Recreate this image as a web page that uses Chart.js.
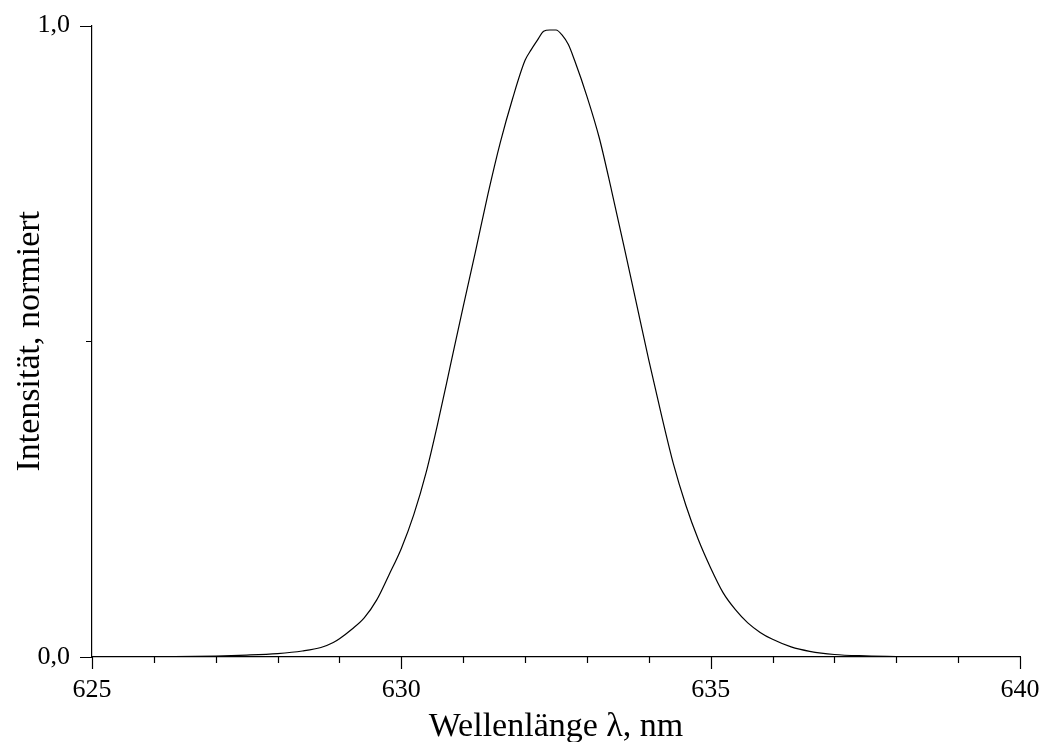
<!DOCTYPE html>
<html>
<head>
<meta charset="utf-8">
<script src="https://cdn.jsdelivr.net/npm/chart.js@4.4.0/dist/chart.umd.min.js"></script>
<style>
  body { margin: 0; background: #fff; }
  #wrap { width: 1047px; height: 742px; }
</style>
</head>
<body>
<div id="wrap"><canvas id="spectrum" width="1047" height="742"></canvas></div>
<script>
// Wellenlänge in nm
const wavelengths = [
  625.0, 626.0, 627.0, 627.5, 628.0, 628.4, 628.7, 628.9, 629.0, 629.2,
  629.4, 629.6, 629.8, 630.0, 630.2, 630.4, 630.6, 630.8, 631.0, 631.2,
  631.4, 631.6, 631.8, 632.0, 632.1, 632.2, 632.3, 632.4, 632.5, 632.6,
  632.7, 632.8, 633.0, 633.2, 633.4, 633.6, 633.8, 634.0, 634.2, 634.4,
  634.6, 634.8, 635.0, 635.2, 635.4, 635.6, 635.8, 636.0, 636.3, 636.6,
  637.0, 637.5, 638.0, 638.5, 639.1
];
// normierte Intensität
const intensities = [
  0.000, 0.0003, 0.0015, 0.003, 0.0055, 0.0095, 0.015, 0.023, 0.029, 0.044,
  0.062, 0.090, 0.130, 0.172, 0.225, 0.292, 0.375, 0.465, 0.555, 0.643,
  0.733, 0.815, 0.885, 0.945, 0.962, 0.977, 0.991, 0.993, 0.993, 0.985,
  0.970, 0.945, 0.888, 0.822, 0.738, 0.650, 0.560, 0.470, 0.385, 0.305,
  0.240, 0.186, 0.141, 0.102, 0.075, 0.054, 0.039, 0.028, 0.016, 0.009,
  0.004, 0.0018, 0.0007, 0.0002, 0.000
];
const xTicks = [625, 626, 627, 628, 629, 630, 631, 632, 633, 634, 635, 636, 637, 638, 639, 640];
const xLabelTicks = [625, 630, 635, 640];
const yTicks = [0, 0.5, 1];
const yLabelTicks = [0, 1];

const serif = "'Liberation Serif', 'Times New Roman', serif";

// Striche selber zeichnen (lang / kurz)
const tickPlugin = {
  id: "tickMarks",
  afterDraw(chart) {
    const ctx = chart.ctx;
    const xs = chart.scales.x;
    const ys = chart.scales.y;
    const bottom = chart.chartArea.bottom;
    const left = chart.chartArea.left;
    ctx.save();
    ctx.strokeStyle = "#000";
    ctx.lineWidth = 1.2;
    ctx.beginPath();
    xTicks.forEach(v => {
      const px = Math.round(xs.getPixelForValue(v)) + 0.5;
      const len = xLabelTicks.includes(v) ? 12 : 6;
      ctx.moveTo(px, bottom);
      ctx.lineTo(px, bottom + len);
    });
    yTicks.forEach(v => {
      const py = Math.round(ys.getPixelForValue(v)) + 0.5;
      const len = yLabelTicks.includes(v) ? 12 : 6;
      ctx.moveTo(left, py);
      ctx.lineTo(left - len, py);
    });
    ctx.stroke();
    ctx.restore();
  }
};

const ctx = document.getElementById("spectrum").getContext("2d");
const spectrumChart = new Chart(ctx, {
  type: "line",
  data: {
    datasets: [
      {
        data: wavelengths.map((w, i) => ({ x: w, y: intensities[i] })),
        borderColor: "#000",
        borderWidth: 1.2,
        pointRadius: 0,
        fill: false,
        cubicInterpolationMode: "monotone",
      },
    ],
  },
  options: {
    responsive: false,
    animation: false,
    layout: { padding: { top: 23, right: 27, left: 0, bottom: 0 } },
    plugins: { legend: { display: false }, tooltip: { enabled: false } },
    scales: {
      x: {
        type: "linear",
        min: 625,
        max: 640,
        afterBuildTicks: (scale) => { scale.ticks = xTicks.map(v => ({ value: v })); },
        afterFit: (scale) => { scale.height = 85; },
        grid: { drawOnChartArea: false, drawTicks: true, tickLength: 12, tickColor: "rgba(0,0,0,0)" },
        border: { display: true, color: "#000", width: 1.2 },
        ticks: {
          autoSkip: false,
          maxRotation: 0,
          padding: 6,
          color: "#000",
          font: { family: serif, size: 26 },
          callback: (v) => (xLabelTicks.includes(v) ? String(v) : ""),
        },
        title: {
          display: true,
          text: "Wellenlänge λ, nm",
          color: "#000",
          font: { family: serif, size: 34, lineHeight: 1 },
          padding: { top: 0, bottom: -2 },
        },
      },
      y: {
        min: 0,
        max: 1,
        afterBuildTicks: (scale) => { scale.ticks = yTicks.map(v => ({ value: v })); },
        afterFit: (scale) => { scale.width = 92; },
        grid: { drawOnChartArea: false, drawTicks: true, tickLength: 12, tickColor: "rgba(0,0,0,0)" },
        border: { display: true, color: "#000", width: 1.2 },
        ticks: {
          padding: 10,
          color: "#000",
          font: { family: serif, size: 26 },
          callback: (v) => (yLabelTicks.includes(v) ? v.toFixed(1).replace(".", ",") : ""),
        },
        title: {
          display: true,
          text: "Intensität, normiert",
          color: "#000",
          font: { family: serif, size: 34, lineHeight: 1 },
          padding: { top: 13, bottom: 0 },
        },
      },
    },
  },
  plugins: [tickPlugin],
});
</script>
</body>
</html>
